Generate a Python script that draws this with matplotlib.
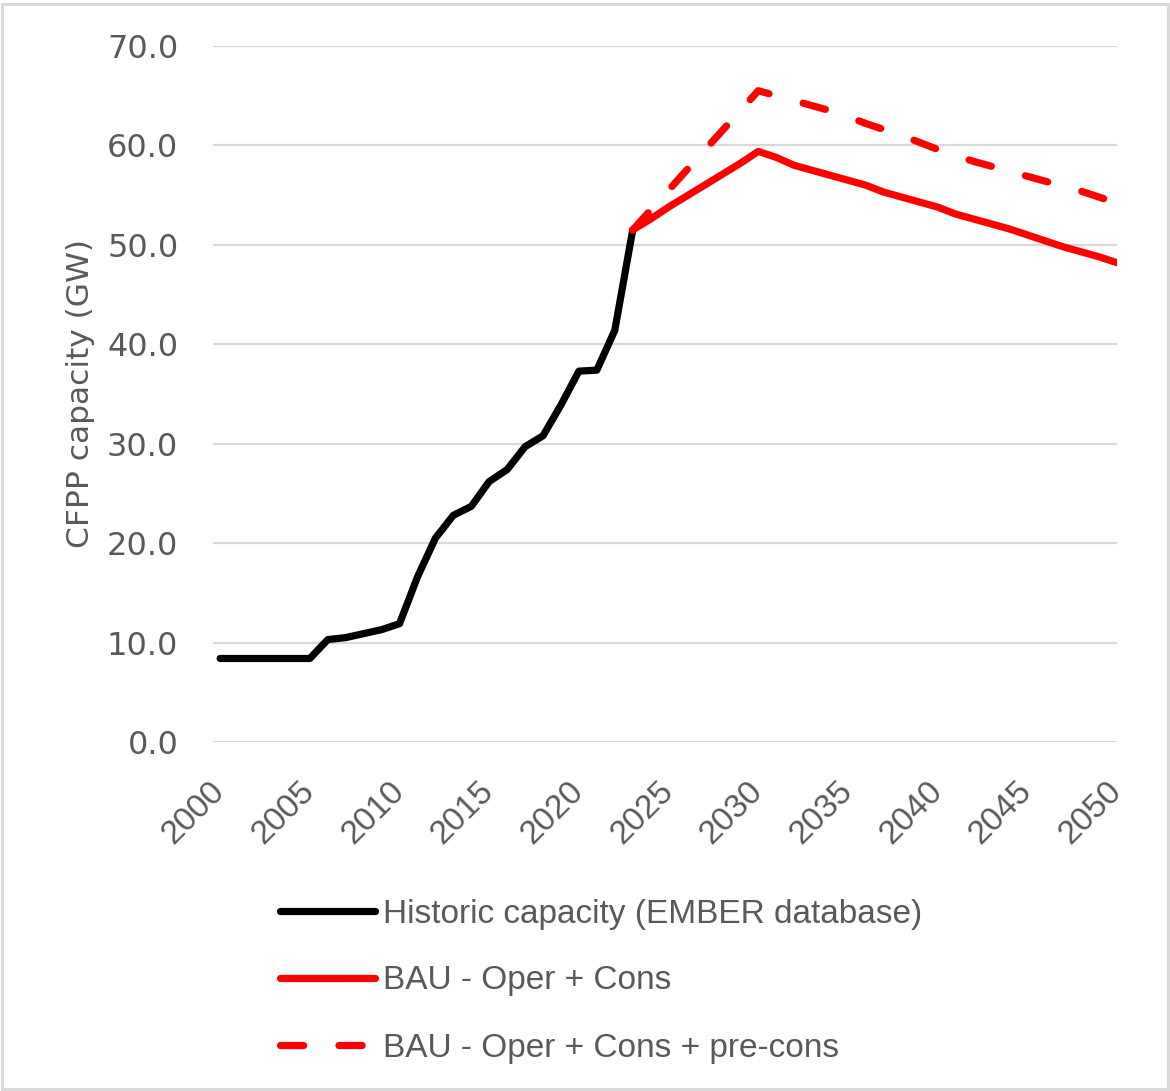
import matplotlib
matplotlib.use("Agg")
import matplotlib.pyplot as plt
from matplotlib.patches import Rectangle

plt.rcParams['font.family'] = ['Liberation Sans', 'DejaVu Sans']

hist_years = list(range(2000, 2024))
hist_vals = [8.4, 8.4, 8.4, 8.4, 8.4, 8.4, 10.3, 10.5, 10.9, 11.3, 11.9,
             16.6, 20.5, 22.8, 23.7, 26.2, 27.4, 29.7, 30.8, 33.9, 37.3,
             37.4, 41.4, 51.5]

proj_years = list(range(2023, 2051))
bau_vals = [51.5, 52.6, 53.8, 54.9, 56.0, 57.1, 58.2, 59.4,
            58.8, 58.0, 57.5, 57.0, 56.5, 56.0, 55.3, 54.8, 54.3, 53.8,
            53.1, 52.6, 52.1, 51.6, 51.0, 50.4, 49.8, 49.3, 48.8, 48.2]
bau_pre_vals = [51.5, 53.5, 55.5, 57.5, 59.5, 61.5, 63.5, 65.5,
                65.0, 64.5, 64.0, 63.5, 62.9, 62.2, 61.6, 61.0, 60.3, 59.6,
                59.0, 58.4, 57.9, 57.4, 56.9, 56.4, 55.9, 55.4, 54.8, 54.2]

labels = ["Historic capacity (EMBER database)",
          "BAU - Oper + Cons",
          "BAU - Oper + Cons + pre-cons"]
ylabel = "CFPP capacity (GW)"
xticks = list(range(2000, 2051, 5))
yticks = [0, 10, 20, 30, 40, 50, 60, 70]

W, H = 1170, 1091
fig = plt.figure(figsize=(W / 100, H / 100), dpi=100)
fig.patches.append(Rectangle((0.002, 0.002), 0.996, 0.994, transform=fig.transFigure,
                             fill=False, edgecolor='#d9d9d9', linewidth=2.2))

ax = fig.add_axes([213 / W, 1 - 742 / H, (1117 - 213) / W, (742 - 46) / H])

grey = '#595959'
lw = 5.2
ax.plot(hist_years, hist_vals, color='black', lw=lw, solid_capstyle='round',
        solid_joinstyle='round', label=labels[0], zorder=3)
ax.plot(proj_years, bau_vals, color='#ff0000', lw=lw, solid_capstyle='round',
        solid_joinstyle='round', label=labels[1], zorder=4)
ax.plot(proj_years, bau_pre_vals, color='#ff0000', lw=lw, dashes=(3.2, 4.9),
        dash_capstyle='round', dash_joinstyle='round', label=labels[2], zorder=4)

ax.set_xlim(1999.6, 2050)
ax.set_ylim(0, 70)
ax.set_yticks(yticks)
ax.set_yticklabels([f"{v:.1f}" for v in yticks], fontfamily='DejaVu Sans', fontsize=23)
ax.set_xticks(xticks)
ax.set_xticklabels([str(v) for v in xticks], rotation=45, ha='right', va='center',
                   rotation_mode='anchor', fontsize=24)
ax.tick_params(axis='both', length=0, labelcolor=grey)
ax.tick_params(axis='x', pad=32)
ax.tick_params(axis='y', pad=25)
ax.grid(axis='y', color='#d9d9d9', linewidth=1.6, zorder=0)
ax.set_axisbelow(True)
for s in ax.spines.values():
    s.set_visible(False)
ax.set_ylabel(ylabel, fontsize=22.5, color=grey, fontfamily='DejaVu Sans')
ax.yaxis.set_label_coords(-118 / (1117 - 213), 0.5)

leg = fig.legend(loc='center left', bbox_to_anchor=(250 / W, 1 - 981 / H), frameon=False,
                 fontsize=24, handlelength=2.85, handletextpad=0.24, labelspacing=1.08,
                 labelcolor=grey)

fig.savefig("out.png", dpi=100)
